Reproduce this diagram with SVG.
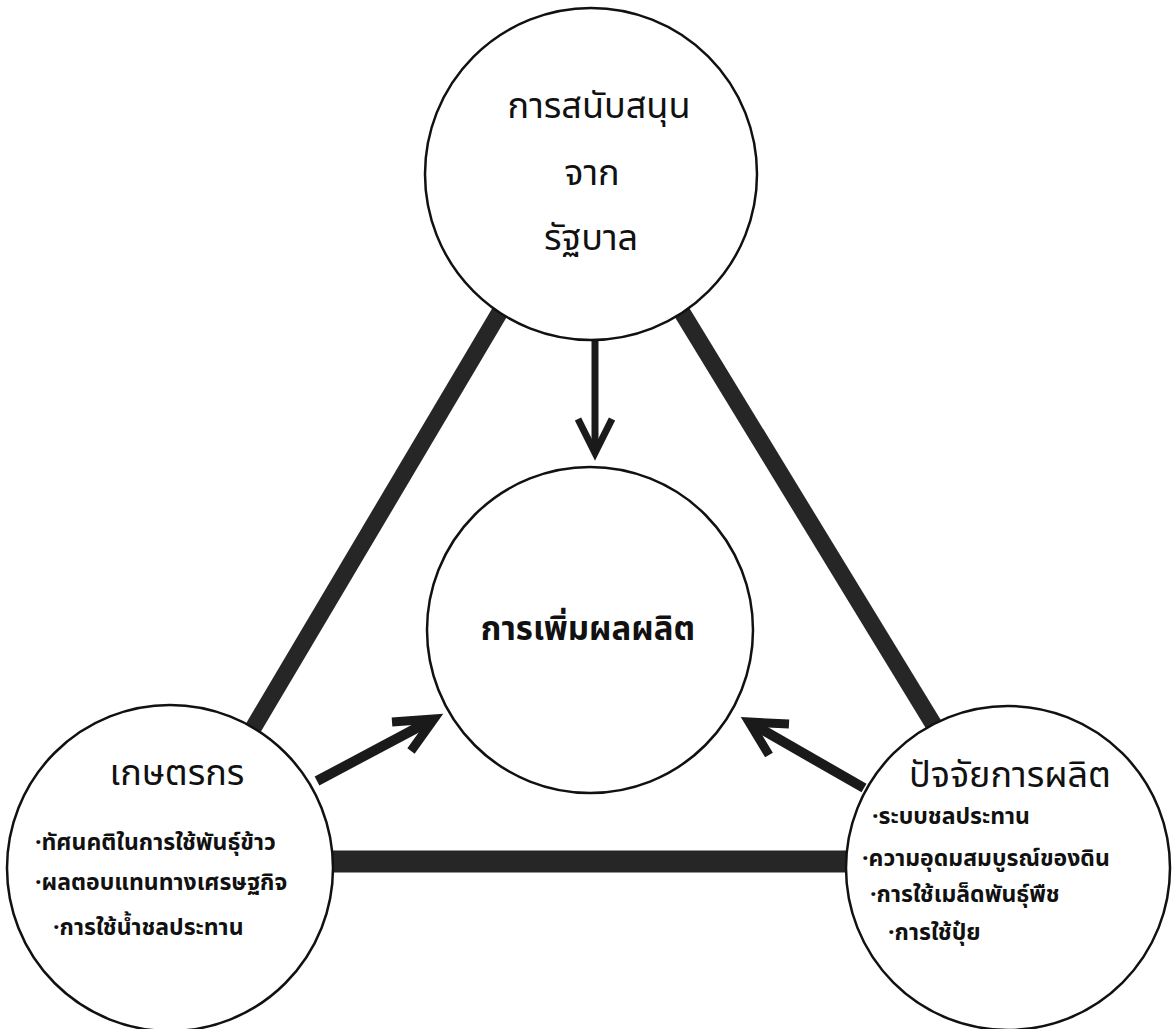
<svg xmlns="http://www.w3.org/2000/svg" width="1174" height="1029" viewBox="0 0 1174 1029">
  <style>
    .node { fill: #ffffff; stroke: #111111; stroke-width: 2.5; }
    .bar { stroke: #262626; stroke-linecap: butt; fill: none; }
    .arrow { stroke: #1a1a1a; fill: none; stroke-linejoin: miter; stroke-linecap: butt; }
    .title { font-family: "Noto Sans Thai", "Noto Sans Thai Looped", "Loma", "Garuda", "Tlwg Typo", "Noto Sans", "DejaVu Sans", sans-serif; font-size: 36px; fill: #111111; text-anchor: middle; }
    .item { font-family: "Noto Sans Thai", "Loma", "Garuda", "Tlwg Typist", "Noto Sans", "DejaVu Sans", sans-serif; font-size: 23px; font-weight: bold; fill: #111111; }
    .center { font-family: "Noto Sans Thai", "Loma", "Garuda", "Noto Sans", "DejaVu Sans", sans-serif; font-size: 33px; font-weight: bold; fill: #111111; text-anchor: middle; }
  </style>
  <rect x="0" y="0" width="1174" height="1029" fill="#ffffff"/>
  <g id="connectors">
    <line class="bar" x1="507" y1="300" x2="252" y2="730" stroke-width="17"/>
    <line class="bar" x1="672" y1="296" x2="940" y2="735" stroke-width="17"/>
    <line class="bar" x1="320" y1="861.5" x2="860" y2="861.5" stroke-width="22"/>
    <line class="arrow" x1="595" y1="338" x2="595" y2="450" stroke-width="7"/>
    <polyline class="arrow" points="578,419 595,453 612,419" stroke-width="7"/>
    <line class="arrow" x1="317" y1="781" x2="428" y2="722" stroke-width="10"/>
    <polyline class="arrow" points="392,722 434,719 411,751" stroke-width="9"/>
    <line class="arrow" x1="864" y1="788" x2="754" y2="725" stroke-width="10"/>
    <polyline class="arrow" points="789,724 749,722 769,755" stroke-width="9"/>
  </g>
  <g id="node-government">
    <circle class="node" cx="591" cy="174" r="166"/>
    <text class="title" x="599" y="118">การสนับสนุน</text>
    <text class="title" x="592" y="185">จาก</text>
    <text class="title" x="591" y="250">รัฐบาล</text>
  </g>
  <g id="node-output">
    <circle class="node" cx="590" cy="630" r="163"/>
    <text class="center" x="588" y="640">การเพิ่มผลผลิต</text>
  </g>
  <g id="node-farmer">
    <circle class="node" cx="170" cy="868" r="163"/>
    <text class="title" x="177" y="785">เกษตรกร</text>
    <text class="item" x="35" y="850">·ทัศนคติในการใช้พันธุ์ข้าว</text>
    <text class="item" x="35" y="890">·ผลตอบแทนทางเศรษฐกิจ</text>
    <text class="item" x="53" y="935">·การใช้น้ำชลประทาน</text>
  </g>
  <g id="node-factors">
    <circle class="node" cx="1008" cy="868" r="162"/>
    <text class="title" x="1010" y="787">ปัจจัยการผลิต</text>
    <text class="item" x="872" y="824">·ระบบชลประทาน</text>
    <text class="item" x="862" y="866">·ความอุดมสมบูรณ์ของดิน</text>
    <text class="item" x="870" y="902">·การใช้เมล็ดพันธุ์พืช</text>
    <text class="item" x="888" y="940">·การใช้ปุ๋ย</text>
  </g>
</svg>
